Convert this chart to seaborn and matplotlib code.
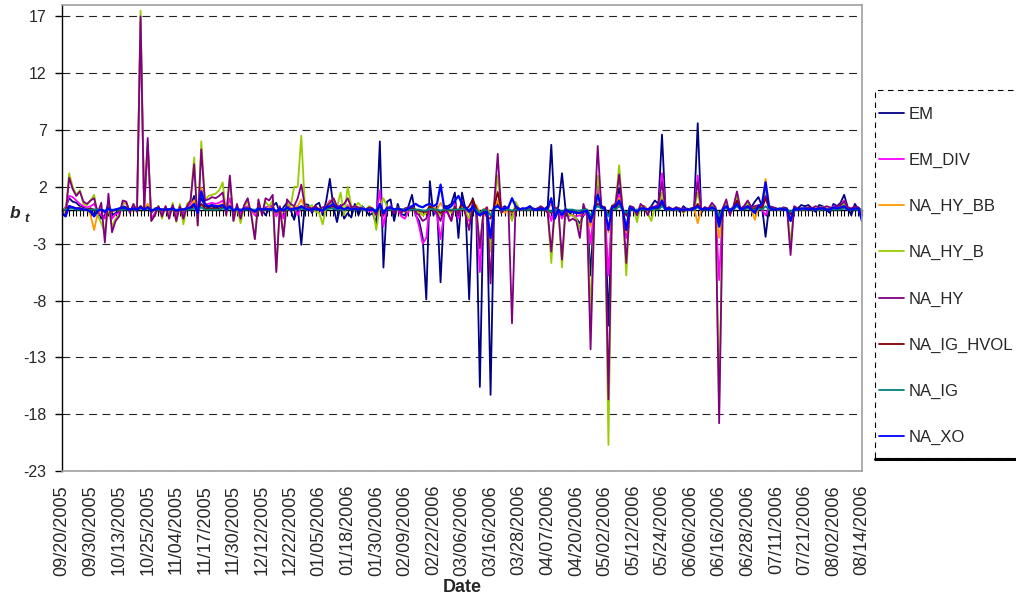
import matplotlib
matplotlib.use("Agg")
import matplotlib.pyplot as plt
import pandas as pd
import seaborn as sns
from matplotlib.lines import Line2D
from matplotlib.patches import Rectangle

# Tick labels (every 8th trading day on a category axis)
tick_labels = [
    "09/20/2005", "09/30/2005", "10/13/2005", "10/25/2005", "11/04/2005",
    "11/17/2005", "11/30/2005", "12/12/2005", "12/22/2005", "01/05/2006",
    "01/18/2006", "01/30/2006", "02/09/2006", "02/22/2006", "03/06/2006",
    "03/16/2006", "03/28/2006", "04/07/2006", "04/20/2006", "05/02/2006",
    "05/12/2006", "05/24/2006", "06/06/2006", "06/16/2006", "06/28/2006",
    "07/11/2006", "07/21/2006", "08/02/2006", "08/14/2006",
]

em = [
    -0.3, 0.2, 1.0, 0.7, 0.6, 0.3, 0.2, 0.0, 0.1, -0.5,
    0.0, -0.8, -0.5, 0.6, -0.5, -0.3, -0.2, 0.3, 0.2, 0.0,
    0.2, -0.1, 0.3, 0.0, 0.4, -0.3, 0.1, 0.2, -0.2, 0.1,
    0.0, 0.2, -0.3, 0.1, 0.0, 0.2, 0.3, 1.2, 0.0, 1.0,
    0.3, 0.2, 0.3, 0.1, 0.3, 0.4, 0.0, 0.3, -0.2, 0.2,
    -0.3, 0.1, 0.2, 0.0, -0.3, 0.2, 0.0, -0.5, 0.1, 0.3,
    0.6, -0.3, 0.2, 0.6, 0.0, -0.9, 0.3, -3.1, 0.5, 0.4,
    -0.3, 0.4, 0.6, -0.5, 0.8, 2.7, 0.2, -1.1, 0.4, -0.8,
    -0.3, -0.7, 0.5, -0.5, 0.3, 0.0, -0.5, -0.3, -1.3, 6.0,
    -5.1, 0.7, 0.9, -1.0, 0.5, -0.4, -0.5, 0.3, 1.3, -0.5,
    -1.0, -2.5, -7.9, 2.5, -0.5, 0.3, -6.4, 0.3, 0.3, 0.5,
    1.5, -2.5, 1.5, 0.0, -7.9, 1.0, -0.3, -15.6, 0.0, -0.3,
    -16.3, 0.3, 0.5, 0.1, 0.3, 0.0, -0.5, 0.2, 0.0, 0.1,
    0.0, 0.2, 0.0, 0.1, 0.2, 0.0, 0.3, 5.7, -0.5, 0.3,
    3.2, 0.0, -0.3, -0.5, -0.8, -1.2, -0.5, -0.3, -5.8, 0.0,
    2.8, 0.3, 0.2, -10.2, 0.3, 0.5, 1.9, 0.0, -1.8, 0.3,
    0.1, -0.3, 0.2, 0.3, 0.0, 0.3, 0.8, 0.5, 6.6, 0.0,
    0.2, 0.0, 0.2, -0.2, 0.3, 0.0, 0.1, 0.2, 7.6, -0.3,
    0.2, 0.0, 0.3, 0.1, -1.0, 0.1, 0.3, 0.0, 0.2, 0.5,
    0.1, 0.3, 0.7, 0.2, 0.7, 1.1, 0.3, -2.4, 0.3, 0.2,
    0.1, 0.0, 0.2, 0.1, -1.0, 0.2, 0.1, 0.4, 0.3, 0.4,
    0.1, -0.2, 0.4, 0.3, 0.0, -0.3, 0.5, 0.3, 0.6, 1.3,
    0.2, -0.5, 0.5, 0.0, -0.5,
]

em_div = [
    -0.2, 0.2, 1.2, 1.1, 0.8, 0.5, 0.3, 0.2, 0.3, 0.5,
    -0.2, -0.5, -0.8, 0.4, -0.8, -0.4, -0.3, 0.6, 0.5, -0.1,
    0.3, 0.0, 16.5, 0.0, 5.5, -0.8, -0.3, 0.2, -0.4, 0.2,
    -0.5, 0.3, -0.6, 0.3, -0.5, 0.3, 0.5, 0.8, -0.5, 1.8,
    0.5, 0.5, 0.6, 0.5, 0.6, 0.8, -0.2, 1.0, -0.4, 0.2,
    -0.3, 0.2, 0.3, -0.1, -0.5, 0.3, -0.1, 0.2, 0.3, 0.4,
    -0.6, 0.1, -0.8, 0.3, 0.1, 0.2, -0.5, 0.3, 0.1, 0.0,
    -0.1, 0.1, 0.0, -0.2, 0.3, 0.8, 0.2, 0.0, 0.3, -0.2,
    0.4, 0.0, 0.1, 0.0, 0.1, 0.0, -0.1, -0.2, -0.4, 1.7,
    -1.5, 0.2, 0.3, -0.3, 0.1, -0.6, -0.8, -0.2, 0.3, -0.3,
    -1.5, -3.0, -2.5, 0.5, 0.0, -0.5, -2.6, -0.3, -0.2, -1.0,
    0.5, -0.8, 0.5, -0.3, -1.0, 0.3, 0.0, -5.5, -0.2, 0.0,
    -3.0, 0.3, 1.6, 0.2, 0.0, 0.1, -0.9, 0.2, 0.0, 0.1,
    0.0, 0.1, 0.0, 0.0, 0.1, 0.0, 0.0, -1.0, 0.1, 0.0,
    -0.8, 0.0, -0.5, -0.5, -0.6, -0.5, -0.5, -0.3, -3.0, 0.0,
    1.8, 0.2, 0.1, -5.8, 0.2, 0.4, 1.3, 0.0, -2.5, 0.2,
    0.1, -0.3, 0.2, 0.1, -0.1, 0.1, 0.3, 0.3, 3.2, 0.0,
    0.1, 0.0, 0.1, 0.0, 0.1, 0.0, 0.0, 0.1, 3.0, 0.0,
    0.1, 0.0, 0.2, 0.0, -6.2, 0.1, 0.4, -0.2, 0.1, 0.6,
    0.0, 0.1, 0.3, 0.1, 0.2, 0.1, 0.0, -0.5, 0.2, 0.1,
    0.0, 0.0, 0.1, 0.0, -1.0, 0.1, 0.0, 0.1, 0.1, 0.0,
    0.1, 0.1, 0.0, 0.2, 0.1, 0.0, 0.3, 0.2, 0.4, 0.8,
    0.1, 0.0, 0.2, 0.1, -0.3,
]

na_hy_bb = [
    0.0, 0.1, 0.3, 0.2, 0.1, 0.2, 0.0, 0.1, -0.5, -1.8,
    -0.3, 0.0, -0.2, 0.1, -0.2, 0.0, 0.1, 0.2, 0.1, 0.0,
    0.1, 0.0, 0.3, 0.0, 0.5, -0.2, 0.0, 0.1, -0.1, 0.1,
    -0.1, 0.1, -0.2, 0.1, -0.1, 0.1, 0.3, 0.8, -0.2, 1.9,
    0.5, 0.4, 0.4, 0.3, 0.4, 0.5, 0.0, 0.4, -0.1, 0.1,
    -0.1, 0.1, 0.2, 0.0, -0.3, 0.1, 0.0, 0.1, 0.1, 0.2,
    -0.3, 0.1, -0.2, 0.2, 0.1, 0.2, 0.3, 0.9, 0.1, 0.0,
    0.1, 0.0, 0.1, -0.1, 0.3, 0.7, 1.0, 0.2, 0.2, 0.0,
    0.3, 0.1, 0.0, 0.1, 0.0, 0.0, 0.1, 0.0, -0.2, 0.4,
    -0.3, 0.1, 0.1, 0.0, 0.1, -0.1, -0.2, 0.0, 0.2, 0.0,
    -0.2, -0.5, -0.3, 0.5, 0.2, 0.0, 0.6, 0.0, 0.0, -0.2,
    0.2, -0.2, 0.2, 0.0, -0.3, 0.3, 0.4, -0.3, 0.0, 0.2,
    -0.5, 0.1, 0.8, 0.0, -0.3, 0.0, -0.3, 0.1, 0.0, 0.0,
    0.1, 0.0, 0.0, 0.0, 0.1, 0.0, 0.0, 0.5, 0.0, 0.0,
    -0.3, 0.0, -0.2, -0.2, -0.3, -0.4, -0.2, -0.1, -1.5, 0.0,
    0.8, 0.1, 0.1, -2.0, 0.1, 0.3, 1.0, 0.0, -2.0, 0.1,
    0.0, -0.2, 0.1, 0.3, 0.0, 0.1, 0.2, 0.2, 1.0, 0.0,
    0.1, 0.0, 0.1, 0.0, 0.0, 0.0, 0.0, 0.1, -1.2, 0.0,
    0.1, 0.0, 0.2, 0.0, -2.5, 0.0, 0.3, -0.1, 0.1, 0.5,
    0.0, 0.1, 0.2, 0.0, -0.9, 0.2, 0.3, 2.7, 0.2, 0.0,
    0.0, 0.0, 0.1, 0.0, -0.6, 0.1, 0.0, 0.1, 0.0, 0.0,
    0.1, 0.0, 0.0, 0.1, 0.0, 0.0, 0.1, 0.1, 0.2, 0.3,
    0.0, 0.0, 0.1, 0.0, -0.1,
]

na_hy_b = [
    -0.3, -0.3, 3.2, 2.0, 1.3, 1.7, 0.5, 0.4, 0.8, 1.3,
    -0.5, -1.2, -2.0, 0.3, -1.5, -0.8, -0.5, 0.5, 0.6, -0.2,
    0.4, 0.0, 17.5, 0.2, 6.0, -1.0, -0.5, 0.3, -0.8, 0.3,
    -0.8, 0.6, -1.1, 0.5, -1.3, 0.5, 0.8, 4.6, -1.4, 6.0,
    0.8, 1.2, 1.3, 1.4, 1.7, 2.4, -0.5, 2.8, -1.0, 0.3,
    -1.2, 0.3, 0.7, -0.3, -2.6, 0.6, -0.3, 0.7, 0.3, 0.8,
    -5.3, 0.2, -2.3, 0.5, 0.3, 2.0, 2.0, 6.5, 0.3, 0.2,
    0.4, -0.2, -0.3, -1.3, 0.3, 0.5, 0.5, 0.2, 1.5, -0.5,
    2.0, 0.3, 0.2, 0.6, 0.2, 0.0, 0.3, 0.1, -1.8, 0.3,
    1.0, 0.3, 0.1, 0.0, 0.2, 0.0, 0.1, 0.2, 0.2, 0.0,
    -0.2, -0.5, -0.3, 0.3, 0.0, -0.2, -0.5, 0.2, 0.0, -0.3,
    0.3, -0.3, 0.3, -0.2, -0.8, 0.3, 0.0, -3.2, -0.2, 0.1,
    -3.7, 0.3, 3.0, -0.2, 0.1, 0.0, -1.0, 0.7, 0.1, 0.0,
    0.1, 0.0, 0.1, 0.0, 0.2, 0.0, -0.3, -4.7, 0.2, 0.0,
    -5.1, 0.1, -0.5, -0.5, -0.8, -1.7, 0.3, -0.5, -9.0, -1.0,
    3.0, 0.3, 0.2, -20.7, 0.3, 0.6, 3.9, 0.0, -5.8, 0.3,
    0.2, -1.1, 0.3, 0.1, -0.3, -1.0, 0.2, 0.3, 1.5, 0.1,
    0.0, 0.1, 0.0, 0.1, -0.3, 0.0, 0.1, 0.0, 1.5, 0.0,
    0.1, 0.0, 0.3, 0.1, -17.5, 0.1, 0.6, -0.3, 0.2, 1.2,
    0.0, 0.2, 0.6, 0.1, 0.2, 0.3, 0.1, 1.8, 0.2, 0.1,
    0.0, 0.1, 0.0, 0.1, -3.0, 0.2, 0.0, 0.1, 0.1, 0.0,
    0.2, 0.1, 0.0, 0.2, 0.1, 0.0, 0.2, 0.1, 0.3, 0.5,
    0.1, 0.0, 0.2, 0.1, -0.1,
]

na_hy = [
    -0.5, -0.5, 2.8, 1.8, 1.2, 1.6, 0.7, 0.5, 0.8, 1.0,
    -0.3, 0.6, -2.9, 1.4, -2.0, -1.0, -0.6, 0.8, 0.7, -0.3,
    0.5, -0.2, 17.0, 0.0, 6.3, -1.0, -0.5, 0.3, -0.6, 0.3,
    -0.8, 0.4, -1.0, 0.3, -0.8, 0.3, 0.8, 4.0, -1.4, 5.3,
    0.8, 0.9, 1.1, 1.0, 1.2, 1.5, -0.5, 3.0, -1.0, 0.5,
    -0.8, 0.4, 1.0, -0.5, -2.6, 0.9, -0.5, 1.0, 0.8, 1.3,
    -5.5, 0.3, -2.4, 0.9, 0.5, 0.3, 1.0, 2.2, 0.3, 0.2,
    0.1, 0.3, 0.0, 0.2, 0.3, 0.6, 1.0, 0.3, 0.3, 0.5,
    1.0, 0.2, 0.3, 0.2, 0.1, 0.0, 0.2, 0.1, -0.5, 0.5,
    -0.5, 0.2, 0.1, -0.3, 0.2, -0.3, 0.1, 0.2, 0.3, -0.2,
    -0.5, -1.0, -0.8, 0.3, 0.0, -0.3, -1.0, 0.2, -0.3, -1.0,
    0.3, -0.5, 0.8, -0.5, -1.8, 0.5, 0.1, -3.4, -0.2, 0.2,
    -6.5, 0.5, 4.9, -0.3, 0.1, 0.2, -10.0, 0.3, 0.1, 0.0,
    0.1, 0.0, 0.1, 0.0, 0.3, 0.1, -0.3, -3.7, 0.2, 0.0,
    -4.4, 0.1, -1.0, -0.8, -1.0, -2.5, 0.5, -0.5, -12.3, -1.0,
    5.6, 0.3, 0.2, -16.7, 0.3, 0.5, 3.1, 0.0, -4.7, 0.3,
    0.2, -0.5, 0.5, 0.2, -0.5, 0.3, 0.2, 0.5, 2.4, 0.1,
    0.2, 0.0, 0.2, 0.1, -0.2, 0.1, 0.0, 0.2, 2.4, 0.0,
    0.2, 0.1, 0.6, 0.2, -18.8, 0.1, 0.9, -0.5, 0.3, 1.6,
    0.0, 0.3, 0.8, 0.2, 0.3, 0.4, 0.2, 1.2, 0.3, 0.2,
    0.1, 0.0, 0.1, 0.1, -4.0, 0.3, 0.1, 0.0, 0.1, 0.2,
    0.1, 0.3, 0.2, 0.1, 0.3, 0.2, 0.1, 0.3, 0.4, 0.7,
    0.2, 0.1, 0.3, 0.2, -0.2,
]

na_ig_hvol = [
    -0.1, 0.0, 0.3, 0.2, 0.1, 0.1, 0.0, 0.0, 0.1, 0.0,
    -0.1, 0.0, -0.2, 0.1, -0.1, 0.0, 0.0, 0.1, 0.1, 0.0,
    0.0, 0.0, 0.3, 0.0, 0.2, -0.1, 0.0, 0.0, 0.0, 0.0,
    0.0, 0.0, -0.1, 0.0, 0.0, 0.0, 0.1, 0.3, -0.1, 0.5,
    0.1, 0.1, 0.1, 0.1, 0.1, 0.2, 0.0, 0.2, -0.1, 0.0,
    0.0, 0.0, 0.1, 0.0, -0.1, 0.0, 0.0, 0.0, 0.0, 0.1,
    -0.2, 0.0, -0.1, 0.0, 0.0, 0.1, 0.1, 0.2, 0.0, 0.0,
    0.0, 0.0, 0.0, 0.0, 0.1, 0.2, 0.3, 0.0, 0.1, 0.0,
    0.1, 0.0, 0.0, 0.0, 0.0, 0.0, 0.0, 0.0, -0.1, 0.2,
    -0.2, 0.0, 0.0, 0.0, 0.0, 0.0, -0.1, 0.0, 0.1, 0.0,
    -0.1, -0.2, -0.2, 0.3, 0.0, 0.0, -0.3, 0.0, 0.0, -0.1,
    0.1, -0.1, 0.5, 0.0, 0.3, 0.9, 0.1, -0.5, 0.0, -0.7,
    -0.8, 0.3, 1.5, 0.0, 0.1, 0.0, -0.2, 0.1, 0.0, 0.0,
    0.0, 0.0, 0.0, 0.0, 0.1, 0.0, 0.0, -0.3, 0.0, 0.0,
    -0.4, 0.0, -0.1, -0.1, -0.2, -0.3, 0.0, 0.0, -0.8, 0.0,
    0.5, 0.3, 0.1, -0.5, 0.3, 0.1, 0.6, 0.0, -0.5, 0.1,
    0.0, -0.1, 0.1, 0.0, 0.0, 0.0, 0.1, 0.1, 0.5, 0.0,
    0.0, 0.0, 0.0, 0.0, 0.0, 0.0, 0.0, 0.0, 0.5, 0.0,
    0.0, 0.0, 0.1, 0.0, -0.5, 0.0, 0.2, -0.1, 0.1, 0.8,
    0.0, 0.1, 0.3, 0.0, 0.1, 0.2, 0.1, 1.0, 0.1, 0.0,
    0.0, 0.0, 0.0, 0.0, -0.4, 0.1, 0.0, 0.0, 0.0, 0.0,
    0.0, 0.0, 0.0, 0.1, 0.0, 0.0, 0.1, 0.0, 0.1, 0.2,
    0.0, 0.0, 0.1, 0.0, 0.0,
]

na_ig = [
    0.0, 0.0, 0.1, 0.1, 0.0, 0.0, 0.0, 0.0, 0.0, 0.0,
    0.0, 0.0, -0.1, 0.0, 0.0, 0.0, 0.0, 0.0, 0.0, 0.0,
    0.0, 0.0, 0.1, 0.0, 0.1, 0.0, 0.0, 0.0, 0.0, 0.0,
    0.0, 0.0, 0.0, 0.0, 0.0, 0.0, 0.0, 0.1, 0.0, 0.2,
    0.0, 0.0, 0.0, 0.0, 0.0, 0.1, 0.0, 0.1, 0.0, 0.0,
    0.0, 0.0, 0.0, 0.0, 0.0, 0.0, 0.0, 0.0, 0.0, 0.0,
    -0.1, 0.0, 0.0, 0.0, 0.0, 0.0, 0.0, 0.1, 0.0, 0.0,
    0.0, 0.0, 0.0, 0.0, 0.0, 0.1, 0.1, 0.0, 0.0, 0.0,
    0.0, 0.0, 0.0, 0.0, 0.0, 0.0, 0.0, 0.0, 0.0, 0.1,
    -0.1, 0.0, 0.0, 0.0, 0.0, 0.0, 0.0, 0.0, 0.0, 0.0,
    0.0, -0.1, -0.1, 0.1, 0.0, 0.0, -0.1, 0.0, 0.0, 0.0,
    0.0, 0.0, 0.1, 0.0, 0.0, 0.2, 0.0, -0.3, 0.0, -0.1,
    -0.5, 0.0, 0.3, 0.0, 0.0, 0.0, -0.1, 0.0, 0.0, 0.0,
    0.0, 0.0, 0.0, 0.0, 0.0, 0.0, 0.0, -0.2, 0.0, 0.0,
    -0.2, 0.0, 0.0, 0.0, -0.1, -0.1, 0.0, 0.0, -0.5, 0.0,
    0.3, 0.1, 0.0, -0.6, 0.1, 0.0, 0.3, 0.0, -0.3, 0.0,
    0.0, 0.0, 0.0, 0.0, 0.0, 0.0, 0.0, 0.0, 0.3, 0.0,
    0.0, 0.0, 0.0, 0.0, 0.0, 0.0, 0.0, 0.0, 0.2, 0.0,
    0.0, 0.0, 0.0, 0.0, -0.5, 0.0, 0.1, 0.0, 0.0, 0.3,
    0.0, 0.0, 0.1, 0.0, 0.0, 0.1, 0.0, 0.3, 0.0, 0.0,
    0.0, 0.0, 0.0, 0.0, -0.2, 0.0, 0.0, 0.0, 0.0, 0.0,
    0.0, 0.0, 0.0, 0.0, 0.0, 0.0, 0.0, 0.0, 0.0, 0.1,
    0.0, 0.0, 0.0, 0.0, 0.0,
]

na_xo = [
    -0.3, -0.6, 0.3, 0.2, 0.1, 0.1, 0.0, 0.0, -0.2, -0.6,
    -0.1, 0.0, -0.2, 0.1, -0.1, 0.0, 0.1, 0.2, 0.1, 0.0,
    0.1, 0.0, 0.2, 0.0, 0.2, -0.1, 0.0, 0.1, 0.0, 0.0,
    0.0, 0.1, -0.1, 0.0, 0.0, 0.1, 0.2, 0.5, -0.3, 1.6,
    0.5, 0.3, 0.4, 0.3, 0.3, 0.4, 0.0, 0.3, -0.1, 0.1,
    -0.1, 0.1, 0.1, 0.0, -0.2, 0.1, 0.0, 0.1, 0.0, 0.1,
    -0.2, 0.1, -0.1, 0.2, 0.0, 0.1, 0.1, 0.3, 0.1, 0.0,
    0.0, 0.1, 0.0, -0.1, 0.2, 0.3, 0.5, 0.1, 0.2, 0.0,
    0.2, 0.0, 0.1, 0.0, 0.1, 0.0, 0.0, 0.0, -0.2, 0.5,
    -0.3, 0.1, 0.2, 0.0, 0.1, 0.0, -0.1, 0.1, 0.3, 0.5,
    0.3, 0.2, 0.4, 0.5, 0.3, 0.5, 2.2, 0.2, 0.1, 0.3,
    0.8, 1.2, 0.5, 0.2, -0.2, 0.3, -0.3, -0.5, -0.3, -0.2,
    -2.5, 0.2, 0.3, 0.0, 0.1, 0.2, 1.0, 0.3, 0.0, 0.1,
    0.1, 0.3, 0.0, 0.0, 0.1, 0.0, 0.1, 1.0, -0.8, 0.0,
    -0.5, 0.0, -0.2, -0.2, -0.3, -0.3, -0.2, -0.1, -1.1, 0.0,
    1.3, 0.2, 0.1, -1.8, 0.2, 0.3, 0.8, 0.0, -1.8, 0.2,
    0.0, -0.2, 0.1, 0.1, 0.0, 0.1, 0.2, 0.2, 0.8, 0.0,
    0.1, 0.0, 0.1, 0.0, 0.0, 0.0, 0.0, 0.1, 0.3, 0.0,
    0.1, 0.0, 0.2, 0.0, -1.5, 0.0, 0.3, -0.1, 0.1, 0.5,
    0.0, 0.1, 0.3, 0.0, -0.3, 0.3, 0.5, 2.4, 0.2, 0.0,
    0.0, 0.1, 0.0, 0.0, -1.0, 0.1, 0.0, 0.1, 0.1, 0.0,
    0.1, 0.0, 0.1, 0.1, 0.0, 0.0, 0.2, 0.1, 0.2, 0.3,
    0.0, 0.0, 0.1, 0.1, -1.0,
]

series_names = ["EM", "EM_DIV", "NA_HY_BB", "NA_HY_B", "NA_HY", "NA_IG_HVOL", "NA_IG", "NA_XO"]
series_values = [em, em_div, na_hy_bb, na_hy_b, na_hy, na_ig_hvol, na_ig, na_xo]
colors = ["#000080", "#FF00FF", "#FF9900", "#99CC00", "#800080", "#800000", "#008080", "#0000FF"]

frames = []
for name, vals in zip(series_names, series_values):
    frames.append(pd.DataFrame({"day": range(len(vals)), "b_t": vals, "series": name}))
df = pd.concat(frames, ignore_index=True)

sns.set_style("white")
plt.rcParams["font.family"] = ["Liberation Sans", "DejaVu Sans"]
plt.rcParams["axes.unicode_minus"] = False

W, H = 1016, 603
fig = plt.figure(figsize=(W / 100, H / 100), dpi=100)
ax = fig.add_axes([62 / W, 1 - 471 / H, 800 / W, 466 / H])

palette = dict(zip(series_names, colors))
sns.lineplot(data=df, x="day", y="b_t", hue="series", hue_order=series_names,
             palette=palette, estimator=None, sort=False, linewidth=1.3,
             legend=False, ax=ax)
ax.lines[-1].set_linewidth(1.6)

n = len(em)
ax.set_xlim(0, n - 1)
ax.set_ylim(-23, 18)
ax.set_yticks(range(-23, 18, 5))
ax.set_xticks(range(0, n, 8))
ax.set_xticklabels(tick_labels, rotation=90, fontsize=13)
ax.tick_params(axis="x", length=0, pad=10)
ax.tick_params(axis="y", length=5, width=1, color="black", direction="out",
               labelsize=11.5, pad=6, left=True)
ax.set_xlabel("")
ax.set_ylabel("")

ax.grid(axis="y", color="#222222", linestyle=(0, (7, 5)), linewidth=0.8)
ax.grid(axis="x", visible=False)
ax.set_axisbelow(True)

for side in ["top", "right", "bottom"]:
    ax.spines[side].set_color("#A0A0A0")
    ax.spines[side].set_linewidth(1.2)
    ax.spines[side].set_visible(True)
ax.spines["left"].set_color("black")
ax.spines["left"].set_linewidth(1.0)

# category axis crossing at zero with a tick per trading day
zero = ax.secondary_xaxis(23 / 41)
zero.set_alignment("bottom")
zero.set_xticks(range(n))
zero.tick_params(axis="x", length=4, width=0.8, color="black", direction="out",
                 labelbottom=False)
zero.spines["bottom"].set_color("black")
zero.spines["bottom"].set_linewidth(1.0)

fig.text(462 / W, 1 - 588 / H, "Date", ha="center", va="center",
         fontsize=13, fontweight="bold")
fig.text(10 / W, 1 - 218 / H, "b", ha="left", va="baseline",
         fontsize=12.5, fontweight="bold", fontstyle="italic")
fig.text(24 / W, 1 - 222 / H, "t", ha="left", va="baseline",
         fontsize=9.5, fontweight="bold", fontstyle="italic")

# legend box (runs off the right edge of the chart)
box = Rectangle((875 / W, 1 - 458 / H), 160 / W, 368 / H, transform=fig.transFigure,
                facecolor="white", edgecolor="black", linewidth=0.8,
                linestyle=(0, (5, 4)), clip_on=False, zorder=1)
fig.patches.append(box)
fig.add_artist(Line2D([875 / W, 1.0], [1 - 459 / H, 1 - 459 / H],
                      transform=fig.transFigure, color="black", linewidth=2.2))

handles = [Line2D([0], [0], color=c, linewidth=1.3) for c in colors]
leg = fig.legend(handles, series_names, loc="upper left",
                 bbox_to_anchor=(879 / W, 1 - 107 / H), bbox_transform=fig.transFigure,
                 frameon=False, fontsize=12, handlelength=1.5, handletextpad=0.3,
                 labelspacing=1.86, borderpad=0, borderaxespad=0)
leg.set_zorder(10)

fig.savefig("out.png", dpi=100, facecolor="white")
